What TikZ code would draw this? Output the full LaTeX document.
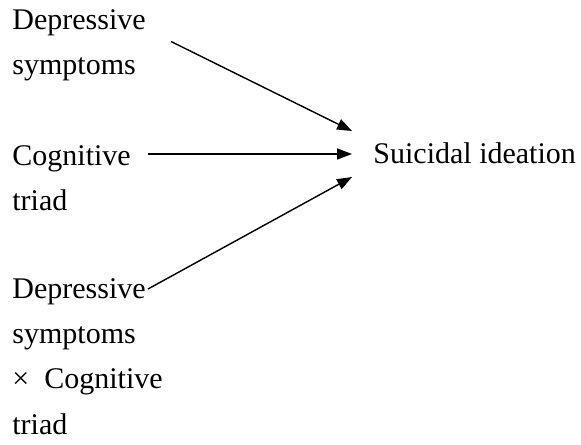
\documentclass[tikz,border=0pt]{standalone}
\usepackage{fontspec}
\setmainfont{Liberation Serif}
\usetikzlibrary{arrows.meta}

\begin{document}
\begin{tikzpicture}[x=0.5pt,y=-0.5pt]

        \useasboundingbox (0,0) rectangle (581,444);

        % base anchor = baseline of the last line
        \begin{scope}[every node/.style={anchor=base west, align=left, inner sep=0pt,
            font=\fontsize{15pt}{22.65pt}\selectfont}]
          \node (1) at (12,74.3)  {Depressive\\symptoms};
          \node (2) at (12,210.3) {Cognitive\\triad};
          \node (3) at (12,434)   {Depressive\\symptoms\\×~~Cognitive\\triad};
          \node (4) at (373,163.5) {Suicidal ideation};
        \end{scope}

        \coordinate (1o) at (171,41.5);
        \coordinate (2o) at (148,154);
        \coordinate (3o) at (148,289);
        \coordinate (4a) at (352,131);
        \coordinate (4b) at (352,154);
        \coordinate (4c) at (352,177);

        \begin{scope}[every edge/.style={draw, line width=0.7pt, -{Triangle[length=7.5pt,width=5.5pt]}}]
          \path (1o) edge (4a);
          \path (2o) edge (4b);
          \path (3o) edge (4c);
        \end{scope}

      \end{tikzpicture}
\end{document}
